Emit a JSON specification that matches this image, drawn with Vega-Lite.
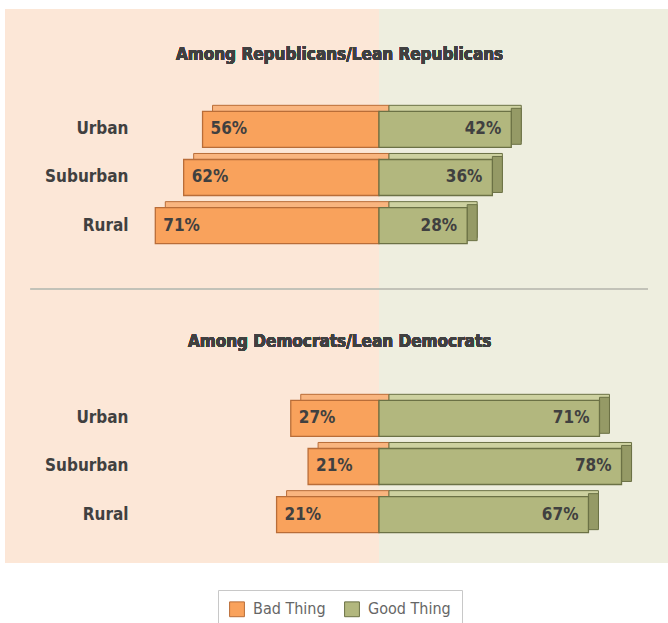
{
  "$schema": "https://vega.github.io/schema/vega-lite/v6.json",
  "width": 668,
  "height": 623,
  "autosize": {"type": "none"},
  "padding": 0,
  "background": "white",
  "config": {
    "view": {"stroke": null},
    "font": "Liberation Sans Narrow, DejaVu Sans Condensed, sans-serif"
  },
  "data": {
    "values": [
      {"row": "R|Urban", "type": "Bad Thing", "pct": 56, "label": "56%"},
      {"row": "R|Urban", "type": "Good Thing", "pct": 42, "label": "42%"},
      {"row": "R|Suburban", "type": "Bad Thing", "pct": 62, "label": "62%"},
      {"row": "R|Suburban", "type": "Good Thing", "pct": 36, "label": "36%"},
      {"row": "R|Rural", "type": "Bad Thing", "pct": 71, "label": "71%"},
      {"row": "R|Rural", "type": "Good Thing", "pct": 28, "label": "28%"},
      {"row": "D|Urban", "type": "Bad Thing", "pct": 28, "label": "27%"},
      {"row": "D|Urban", "type": "Good Thing", "pct": 70, "label": "71%"},
      {"row": "D|Suburban", "type": "Bad Thing", "pct": 22.5, "label": "21%"},
      {"row": "D|Suburban", "type": "Good Thing", "pct": 77, "label": "78%"},
      {"row": "D|Rural", "type": "Bad Thing", "pct": 32.5, "label": "21%"},
      {"row": "D|Rural", "type": "Good Thing", "pct": 66.5, "label": "67%"}
    ]
  },
  "transform": [
    {"calculate": "datum.type == 'Bad Thing' ? -datum.pct : 0", "as": "x0"},
    {"calculate": "datum.type == 'Bad Thing' ? 0 : datum.pct", "as": "x1"}
  ],
  "layer": [
    {
      "mark": {"type": "rect", "color": "#fce7d7"},
      "encoding": {
        "x": {"datum": -118.7, "type": "quantitative", "scale": {"domain": [-120.3, 91.75], "nice": false, "zero": false}, "axis": null},
        "x2": {"datum": 0},
        "y": {"datum": "top2", "type": "nominal", "bandPosition": 0,
          "scale": {"type": "band", "domain": ["top2", "top1", "R|Urban", "R|Suburban", "R|Rural", "g1", "g2", "g3", "D|Urban", "D|Suburban", "D|Rural", "bot"], "range": [8.9, 586.9], "paddingInner": 0, "paddingOuter": 0},
          "axis": {"title": null, "orient": "left", "offset": -128, "domain": false, "ticks": false, "grid": false, "labelPadding": 0, "labelAlign": "right", "labelFontSize": 17, "labelFontWeight": "bold", "labelColor": "#404040", "labelFont": "Liberation Sans Narrow, DejaVu Sans Condensed, sans-serif", "labelExpr": "indexof(datum.value, '|') > 0 ? split(datum.value, '|')[1] : ''"}},
        "y2": {"datum": "bot", "bandPosition": 0.5}
      }
    },
    {
      "mark": {"type": "rect", "color": "#eeeedf"},
      "encoding": {
        "x": {"datum": 0, "type": "quantitative"},
        "x2": {"datum": 91.75},
        "y": {"datum": "top2", "type": "nominal", "bandPosition": 0},
        "y2": {"datum": "bot", "bandPosition": 0.5}
      }
    },
    {
      "mark": {"type": "rule", "color": "#c2c2b8", "strokeWidth": 2},
      "encoding": {
        "x": {"datum": -110.5, "type": "quantitative"},
        "x2": {"datum": 85.4},
        "y": {"datum": "g1", "type": "nominal", "bandPosition": 0.815}
      }
    },
    {
      "mark": {"type": "text", "fontSize": 17, "fontWeight": "bold", "color": "#404040", "align": "center", "baseline": "middle"},
      "encoding": {
        "x": {"datum": -12.5, "type": "quantitative"},
        "y": {"datum": "top2", "type": "nominal", "bandPosition": 0.96},
        "text": {"value": "Among Republicans/Lean Republicans"}
      }
    },
    {
      "mark": {"type": "text", "fontSize": 17, "fontWeight": "bold", "color": "#404040", "align": "center", "baseline": "middle"},
      "encoding": {
        "x": {"datum": -12.5, "type": "quantitative"},
        "y": {"datum": "g2", "type": "nominal", "bandPosition": 0.92},
        "text": {"value": "Among Democrats/Lean Democrats"}
      }
    },
    {
      "mark": {"type": "bar", "height": 36, "xOffset": 10, "x2Offset": 10, "yOffset": -6, "strokeWidth": 1},
      "encoding": {
        "y": {"field": "row", "type": "nominal"},
        "x": {"field": "x0", "type": "quantitative"},
        "x2": {"field": "x1"},
        "fill": {"condition": {"test": "datum.type == 'Bad Thing'", "value": "#f9b57f"}, "value": "#cdd1a0"},
        "stroke": {"condition": {"test": "datum.type == 'Bad Thing'", "value": "#b96d38"}, "value": "#6b7145"}
      }
    },
    {
      "transform": [{"filter": "datum.type == 'Good Thing'"}],
      "mark": {"type": "bar", "height": 36, "x2Offset": 10, "yOffset": -3, "fill": "#959a66", "stroke": "#6b7145", "strokeWidth": 1},
      "encoding": {
        "y": {"field": "row", "type": "nominal"},
        "x": {"field": "x1", "type": "quantitative"},
        "x2": {"field": "x1"}
      }
    },
    {
      "mark": {"type": "bar", "height": 36, "strokeWidth": 1.3},
      "encoding": {
        "y": {"field": "row", "type": "nominal"},
        "x": {"field": "x0", "type": "quantitative"},
        "x2": {"field": "x1"},
        "color": {"field": "type", "type": "nominal",
          "scale": {"domain": ["Bad Thing", "Good Thing"], "range": ["#f9a25c", "#b2b77e"]},
          "legend": {"title": null, "orient": "none", "legendX": 218, "legendY": 590, "direction": "horizontal", "strokeColor": "#c8c8c8", "fillColor": "white", "padding": 11, "symbolType": "square", "symbolSize": 220, "symbolStrokeWidth": 1, "labelFontSize": 16, "labelColor": "#666666", "labelFont": "Liberation Sans Narrow, DejaVu Sans Condensed, sans-serif", "columnPadding": 16, "labelOffset": 8}},
        "stroke": {"field": "type", "type": "nominal",
          "scale": {"domain": ["Bad Thing", "Good Thing"], "range": ["#b96d38", "#6b7145"]},
          "legend": {"title": null, "orient": "none", "legendX": 218, "legendY": 590, "direction": "horizontal", "strokeColor": "#c8c8c8", "fillColor": "white", "padding": 11, "symbolType": "square", "symbolSize": 220, "symbolStrokeWidth": 1, "labelFontSize": 16, "labelColor": "#666666", "labelFont": "Liberation Sans Narrow, DejaVu Sans Condensed, sans-serif", "columnPadding": 16, "labelOffset": 8}}
      }
    },
    {
      "transform": [{"filter": "datum.type == 'Bad Thing'"}],
      "mark": {"type": "text", "align": "left", "baseline": "middle", "dx": 8, "fontSize": 17, "fontWeight": "bold", "color": "#404040"},
      "encoding": {
        "y": {"field": "row", "type": "nominal"},
        "x": {"field": "x0", "type": "quantitative"},
        "text": {"field": "label"}
      }
    },
    {
      "transform": [{"filter": "datum.type == 'Good Thing'"}],
      "mark": {"type": "text", "align": "right", "baseline": "middle", "dx": -10, "fontSize": 17, "fontWeight": "bold", "color": "#404040"},
      "encoding": {
        "y": {"field": "row", "type": "nominal"},
        "x": {"field": "x1", "type": "quantitative"},
        "text": {"field": "label"}
      }
    }
  ]
}
